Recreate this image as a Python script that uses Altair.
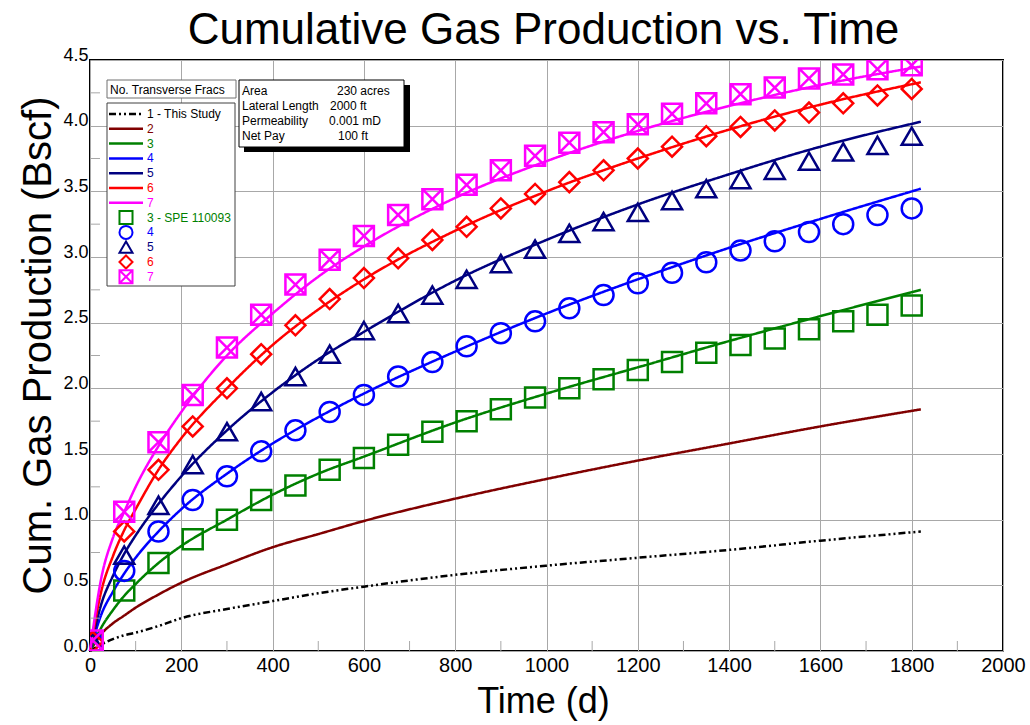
import altair as alt
import pandas as pd

# ---------------- data ----------------
series_ids = ["1", "2", "3", "4", "5", "6", "7"]
series_colors = ["#000000", "#800000", "#008000", "#0000FF", "#000080", "#FF0000", "#FF00FF"]

t_line = [0, 25, 50, 75, 100, 150, 200, 300, 400, 500, 600, 800, 1000, 1200, 1400, 1600, 1820]
line_1 = [0, 0.05, 0.09, 0.12, 0.14, 0.19, 0.25, 0.32, 0.38, 0.44, 0.49, 0.58, 0.65, 0.71, 0.77, 0.84, 0.91]
line_2 = [0, 0.13, 0.21, 0.27, 0.33, 0.43, 0.52, 0.66, 0.79, 0.89, 0.99, 1.16, 1.31, 1.45, 1.58, 1.71, 1.84]
line_3 = [0, 0.18, 0.31, 0.42, 0.51, 0.67, 0.80, 1.00, 1.19, 1.35, 1.48, 1.74, 1.96, 2.16, 2.36, 2.55, 2.75]
line_4 = [0, 0.28, 0.45, 0.59, 0.71, 0.91, 1.08, 1.35, 1.58, 1.78, 1.96, 2.28, 2.57, 2.83, 3.07, 3.29, 3.52]
line_5 = [0, 0.36, 0.57, 0.74, 0.88, 1.12, 1.33, 1.68, 1.97, 2.22, 2.43, 2.82, 3.13, 3.40, 3.63, 3.84, 4.03]
line_6 = [0, 0.46, 0.72, 0.92, 1.08, 1.38, 1.62, 2.00, 2.33, 2.60, 2.83, 3.20, 3.50, 3.75, 3.97, 4.16, 4.33]
line_7 = [0, 0.56, 0.86, 1.06, 1.25, 1.56, 1.82, 2.25, 2.57, 2.85, 3.08, 3.45, 3.73, 3.96, 4.15, 4.31, 4.45]

t_pts = [6, 75, 150, 225, 300, 375, 450, 525, 600, 675, 750, 825, 900, 975, 1050,
         1125, 1200, 1275, 1350, 1425, 1500, 1575, 1650, 1725, 1800]
pts_3 = [0.04, 0.46, 0.67, 0.85, 1.00, 1.15, 1.26, 1.38, 1.47, 1.57, 1.67, 1.75, 1.84, 1.93, 2.00,
         2.07, 2.14, 2.20, 2.27, 2.33, 2.38, 2.45, 2.51, 2.56, 2.63]
pts_4 = [0.06, 0.61, 0.91, 1.15, 1.33, 1.52, 1.68, 1.82, 1.95, 2.09, 2.20, 2.32, 2.42, 2.51, 2.61,
         2.71, 2.80, 2.88, 2.96, 3.05, 3.12, 3.19, 3.25, 3.32, 3.37]
pts_5 = [0.07, 0.73, 1.11, 1.42, 1.67, 1.90, 2.09, 2.26, 2.44, 2.57, 2.71, 2.83, 2.95, 3.06, 3.18,
         3.27, 3.34, 3.43, 3.52, 3.59, 3.66, 3.73, 3.80, 3.85, 3.92]
pts_6 = [0.07, 0.91, 1.38, 1.71, 2.00, 2.26, 2.48, 2.68, 2.84, 2.99, 3.13, 3.23, 3.37, 3.48, 3.57,
         3.66, 3.75, 3.84, 3.92, 3.99, 4.04, 4.10, 4.17, 4.23, 4.28]
pts_7 = [0.08, 1.06, 1.59, 1.95, 2.31, 2.56, 2.79, 2.98, 3.16, 3.32, 3.44, 3.55, 3.66, 3.77, 3.87,
         3.95, 4.01, 4.09, 4.17, 4.24, 4.29, 4.36, 4.39, 4.43, 4.46]

x_ticks = [0, 200, 400, 600, 800, 1000, 1200, 1400, 1600, 1800, 2000]
x_minor = [100, 300, 500, 700, 900, 1100, 1300, 1500, 1700, 1900]
y_ticks = [0, 0.5, 1.0, 1.5, 2.0, 2.5, 3.0, 3.5, 4.0, 4.5]
y_minor = [0.25, 0.75, 1.25, 1.75, 2.25, 2.75, 3.25, 3.75, 4.25]

chart_title = "Cumulative Gas Production vs. Time"
x_title = "Time (d)"
y_title = "Cum. Gas Production (Bscf)"
legend_line_labels = ["1 - This Study", "2", "3", "4", "5", "6", "7"]
legend_pt_labels = ["3 - SPE 110093", "4", "5", "6", "7"]
info_labels = ["Area", "Lateral Length", "Permeability", "Net Pay"]
info_values = ["230 acres", "2000 ft", "0.001 mD", "100 ft"]

# ---------------- tables ----------------
line_vals = [line_1, line_2, line_3, line_4, line_5, line_6, line_7]
lines_df = pd.DataFrame(
    [{"s": sid, "t": t, "v": v} for sid, vals in zip(series_ids, line_vals) for t, v in zip(t_line, vals)]
)
pt_ids = ["3", "4", "5", "6", "7"]
pt_vals = [pts_3, pts_4, pts_5, pts_6, pts_7]
pts_df = pd.DataFrame(
    [{"s": sid, "t": t, "v": v} for sid, vals in zip(pt_ids, pt_vals) for t, v in zip(t_pts, vals)]
)

XSQ = "M-1,-1L1,-1L1,1L-1,1Z M-1,-1L1,1 M1,-1L-1,1"
pt_shapes = ["square", "circle", "triangle-up", "diamond", XSQ]

W, H = 913, 591
FONT = "Liberation Sans, Arial, Helvetica, sans-serif"

xscale = alt.Scale(domain=[0, 2000], nice=False, zero=False)
yscale = alt.Scale(domain=[0, 4.5], nice=False, zero=False)
color_scale = alt.Scale(domain=series_ids, range=series_colors)
dash_scale = alt.Scale(domain=series_ids,
                       range=[[7, 3, 2, 3, 2, 3], [1, 0], [1, 0], [1, 0], [1, 0], [1, 0], [1, 0]])

x_axis = alt.Axis(values=x_ticks, format="d", grid=True, gridColor="#A8A8A8", gridWidth=1, ticks=False,
                  domain=False, labelFontSize=20, labelFont=FONT, labelColor="black",
                  labelPadding=4, labelFlush=False, labelOverlap=False)
y_axis = alt.Axis(values=y_ticks, format=".1f", grid=True, gridColor="#A8A8A8", gridWidth=1,
                  ticks=False, domain=False, labelFontSize=18, labelFont=FONT, labelColor="black",
                  labelBaseline="alphabetic", labelPadding=2, labelOverlap=False,
                  title=y_title, titleFontSize=40, titleFont=FONT,
                  titleFontWeight="normal", titleColor="black", titleX=-40, titleY=285,
                  titleAngle=-90, titleAlign="center", titleBaseline="alphabetic")

lines = alt.Chart(lines_df).mark_line(strokeWidth=2.5, interpolate="monotone").encode(
    x=alt.X("t:Q", scale=xscale, axis=x_axis, title=None),
    y=alt.Y("v:Q", scale=yscale, axis=y_axis),
    color=alt.Color("s:N", scale=color_scale, legend=None),
    strokeDash=alt.StrokeDash("s:N", scale=dash_scale, legend=None),
)

xminor = alt.Chart(pd.DataFrame({"t": x_minor})).mark_rule(color="#A8A8A8", strokeWidth=1).encode(
    x=alt.X("t:Q"), y=alt.value(H), y2=alt.value(H - 10))
yminor = alt.Chart(pd.DataFrame({"v": y_minor})).mark_rule(color="#A8A8A8", strokeWidth=1).encode(
    y=alt.Y("v:Q"), x=alt.value(0), x2=alt.value(10))

points = alt.Chart(pts_df).mark_point(filled=False, strokeWidth=2.5, size=400, opacity=1,
                                      clip=True).encode(
    x="t:Q", y="v:Q",
    color=alt.Color("s:N", scale=color_scale, legend=None),
    shape=alt.Shape("s:N", scale=alt.Scale(domain=pt_ids, range=pt_shapes), legend=None),
)

dummy = pd.DataFrame({"k": [0]})

# titles drawn as text
title_txt = alt.Chart(dummy).mark_text(align="center", baseline="alphabetic", fontSize=44, font=FONT,
                                       color="black").encode(
    x=alt.value(W / 2 - 3), y=alt.value(-16), text=alt.value(chart_title))
xtitle_txt = alt.Chart(dummy).mark_text(align="center", baseline="alphabetic", fontSize=36, font=FONT,
                                        color="black").encode(
    x=alt.value(W / 2 - 3), y=alt.value(H + 62), text=alt.value(x_title))

# header box
hdr_box = alt.Chart(dummy).mark_rect(fill="white", stroke="#707070", strokeWidth=1).encode(
    x=alt.value(17), x2=alt.value(146), y=alt.value(20), y2=alt.value(38))
hdr_txt = alt.Chart(dummy).mark_text(align="left", baseline="middle", fontSize=12, font=FONT,
                                     color="black").encode(
    x=alt.value(20), y=alt.value(29.5), text=alt.value("No. Transverse Fracs"))

# legend box
leg_box = alt.Chart(dummy).mark_rect(fill="white", stroke="#404040", strokeWidth=1).encode(
    x=alt.value(17), x2=alt.value(145), y=alt.value(43), y2=alt.value(226))

ROW0, STEP = 54, 14.8
leg_rows = []
for i, (lab, col) in enumerate(zip(legend_line_labels, series_colors)):
    leg_rows.append({"ly": ROW0 + STEP * i, "lab": lab, "col": col, "kind": "line", "shp": ""})
for j, (lab, sid, shp) in enumerate(zip(legend_pt_labels, pt_ids, pt_shapes)):
    col = series_colors[series_ids.index(sid)]
    leg_rows.append({"ly": ROW0 + STEP * (7 + j), "lab": lab, "col": col, "kind": "pt", "shp": shp})
leg_df = pd.DataFrame(leg_rows)
leg_df["lx1"] = 19
leg_df["lx2"] = 53
leg_df["sx"] = 36
leg_df["tx"] = 57

leg_lines_solid = alt.Chart(leg_df).transform_filter(
    "datum.kind == 'line' && datum.col != '#000000'").mark_rule(strokeWidth=2.5).encode(
    x=alt.X("lx1:Q", scale=None, axis=None), x2="lx2:Q",
    y=alt.Y("ly:Q", scale=None, axis=None),
    color=alt.Color("col:N", scale=None, legend=None))
leg_lines_dash = alt.Chart(leg_df).transform_filter(
    "datum.kind == 'line' && datum.col == '#000000'").mark_rule(
    strokeWidth=2.5, strokeDash=[7, 3, 2, 3, 2, 3], color="black").encode(
    x=alt.X("lx1:Q", scale=None, axis=None), x2="lx2:Q",
    y=alt.Y("ly:Q", scale=None, axis=None))
leg_pts = alt.Chart(leg_df).transform_filter("datum.kind == 'pt'").mark_point(
    filled=False, strokeWidth=2, size=170, opacity=1).encode(
    x=alt.X("sx:Q", scale=None, axis=None),
    y=alt.Y("ly:Q", scale=None, axis=None),
    color=alt.Color("col:N", scale=None, legend=None),
    shape=alt.Shape("shp:N", scale=None, legend=None))
leg_txt = alt.Chart(leg_df).mark_text(align="left", baseline="middle", fontSize=12, font=FONT).encode(
    x=alt.X("tx:Q", scale=None, axis=None),
    y=alt.Y("ly:Q", scale=None, axis=None),
    text="lab:N",
    color=alt.Color("col:N", scale=None, legend=None))

# info box
info_df = pd.DataFrame({"lab": info_labels, "val": info_values})
info_df["ly"] = [31 + 15 * i for i in range(len(info_labels))]
info_df["lx"] = 152
info_df["vx"] = [247, 240, 239, 248]

info_shadow = alt.Chart(dummy).mark_rect(fill="black").encode(
    x=alt.value(154), x2=alt.value(320), y=alt.value(25), y2=alt.value(92))
info_box = alt.Chart(dummy).mark_rect(fill="white", stroke="black", strokeWidth=1).encode(
    x=alt.value(149), x2=alt.value(314), y=alt.value(20), y2=alt.value(87))
info_lab = alt.Chart(info_df).mark_text(align="left", baseline="middle", fontSize=12, font=FONT,
                                        color="black").encode(
    x=alt.X("lx:Q", scale=None, axis=None), y=alt.Y("ly:Q", scale=None, axis=None), text="lab:N")
info_val = alt.Chart(info_df).mark_text(align="left", baseline="middle", fontSize=12, font=FONT,
                                        color="black").encode(
    x=alt.X("vx:Q", scale=None, axis=None), y=alt.Y("ly:Q", scale=None, axis=None), text="val:N")

chart = alt.layer(
    lines, xminor, yminor, points,
    hdr_box, hdr_txt, leg_box, leg_lines_solid, leg_lines_dash, leg_pts, leg_txt,
    info_shadow, info_box, info_lab, info_val, title_txt, xtitle_txt,
).properties(
    width=W, height=H,
    padding={"left": 90, "top": 60, "right": 27, "bottom": 74},
    autosize=alt.AutoSizeParams(type="none"),
    background="white",
).configure_view(stroke="black", strokeWidth=2)

chart.save("out.html", embed_options={"renderer": "svg", "actions": False})
